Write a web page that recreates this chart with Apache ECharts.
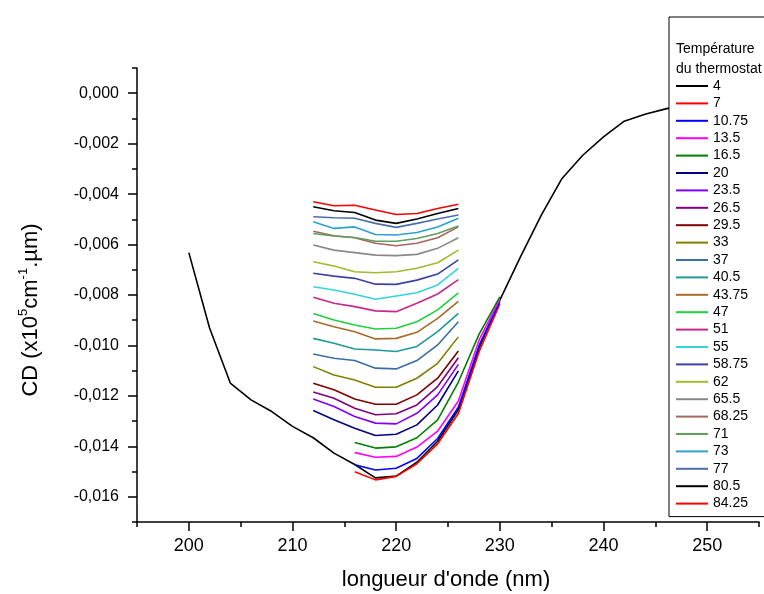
<!DOCTYPE html>
<html><head><meta charset="utf-8">
<script src="https://cdn.jsdelivr.net/npm/echarts@6/dist/echarts.min.js"></script>
<style>html,body{margin:0;padding:0;background:#fff}#c{width:764px;height:594px}</style>
</head><body><div id="c"></div>
<script>
const FONT = 'Liberation Sans, Arial, sans-serif';

// wavelengths (nm)
const wlFull = [200,202,204,206,208,210,212,214,216,218,220,222,224,226,228,230,232,234,236,238,240,242,244,246,248,250];
const wlLow  = [216,218,220,222,224,226,228,230];
const wlMid  = [212,214,216,218,220,222,224,226];

// legend labels (thermostat temperature)
const temps = ['4','7','10.75','13.5','16.5','20','23.5','26.5','29.5','33','37','40.5','43.75','47','51','55','58.75','62','65.5','68.25','71','73','77','80.5','84.25'];

// CD values
const cd4     = [-0.00632,-0.00931,-0.01149,-0.01216,-0.01262,-0.01321,-0.01366,-0.01427,-0.01472,-0.01525,-0.01518,-0.01463,-0.01380,-0.01255,-0.01010,-0.00820,-0.00648,-0.00483,-0.00338,-0.00246,-0.00173,-0.00111,-0.00083,-0.00062,-0.00045,-0.00035];
const cd7     = [-0.01501,-0.01533,-0.01519,-0.01469,-0.01390,-0.01270,-0.01025,-0.00835];
const cd10_75 = [-0.01473,-0.01494,-0.01487,-0.01448,-0.01369,-0.01245,-0.01000,-0.00825];
const cd13_5  = [-0.01425,-0.01443,-0.01440,-0.01403,-0.01340,-0.01220,-0.00978,-0.00816];
const cd16_5  = [-0.01385,-0.01407,-0.01402,-0.01366,-0.01295,-0.01145,-0.00955,-0.00807];
const cd20    = [-0.01258,-0.01295,-0.01328,-0.01357,-0.01352,-0.01315,-0.01236,-0.01101];
const cd23_5  = [-0.01212,-0.01242,-0.01282,-0.01308,-0.01311,-0.01269,-0.01196,-0.01075];
const cd26_5  = [-0.01185,-0.01209,-0.01249,-0.01275,-0.01271,-0.01236,-0.01163,-0.01049];
const cd29_5  = [-0.01150,-0.01176,-0.01212,-0.01233,-0.01233,-0.01196,-0.01130,-0.01022];
const cd33    = [-0.01084,-0.01117,-0.01137,-0.01166,-0.01166,-0.01130,-0.01071,-0.00966];
const cd37    = [-0.01034,-0.01051,-0.01060,-0.01090,-0.01093,-0.01060,-0.00998,-0.00906];
const cd40_5  = [-0.00972,-0.00991,-0.01014,-0.01018,-0.01024,-0.01004,-0.00945,-0.00873];
const cd43_75 = [-0.00903,-0.00926,-0.00946,-0.00974,-0.00972,-0.00948,-0.00893,-0.00825];
const cd47    = [-0.00873,-0.00899,-0.00919,-0.00935,-0.00932,-0.00906,-0.00859,-0.00792];
const cd51    = [-0.00809,-0.00833,-0.00846,-0.00863,-0.00866,-0.00833,-0.00796,-0.00739];
const cd55    = [-0.00767,-0.00780,-0.00797,-0.00817,-0.00804,-0.00791,-0.00760,-0.00694];
const cd58_75 = [-0.00714,-0.00725,-0.00734,-0.00757,-0.00758,-0.00741,-0.00717,-0.00661];
const cd62    = [-0.00668,-0.00685,-0.00708,-0.00712,-0.00708,-0.00694,-0.00672,-0.00622];
const cd65_5  = [-0.00602,-0.00622,-0.00632,-0.00642,-0.00644,-0.00639,-0.00615,-0.00573];
const cd68_25 = [-0.00547,-0.00565,-0.00573,-0.00595,-0.00605,-0.00595,-0.00573,-0.00530];
const cd71    = [-0.00556,-0.00566,-0.00572,-0.00587,-0.00587,-0.00576,-0.00556,-0.00526];
const cd73    = [-0.00510,-0.00536,-0.00530,-0.00560,-0.00562,-0.00552,-0.00530,-0.00496];
const cd77    = [-0.00490,-0.00494,-0.00496,-0.00516,-0.00532,-0.00516,-0.00499,-0.00483];
const cd80_5  = [-0.00450,-0.00466,-0.00473,-0.00503,-0.00516,-0.00499,-0.00477,-0.00457];
const cd84_25 = [-0.00430,-0.00446,-0.00444,-0.00463,-0.00481,-0.00477,-0.00457,-0.00440];

const seriesValues = [cd4,cd7,cd10_75,cd13_5,cd16_5,cd20,cd23_5,cd26_5,cd29_5,cd33,cd37,cd40_5,cd43_75,cd47,cd51,cd55,cd58_75,cd62,cd65_5,cd68_25,cd71,cd73,cd77,cd80_5,cd84_25];
const seriesWl = [wlFull,wlLow,wlLow,wlLow,wlLow].concat(new Array(20).fill(wlMid));

const colors = ['#000000','#ff0000','#0000ff','#ff00ff','#008000','#000080','#8000ff','#800080','#800000','#808000',
  '#3a6ea5','#1e9a9a','#a86a28','#20d040','#c8288a','#33d4e0','#3f3fa8','#a6b82e','#888888','#a56565',
  '#5e9e5e','#2e9fd3','#4870a8','#000000','#ff0000'];

const series = temps.map((t, i) => ({
  name: t,
  type: 'line',
  xAxisIndex: 0, yAxisIndex: 0,
  data: seriesWl[i].map((w, j) => [w, seriesValues[i][j]]),
  symbol: 'none', showSymbol: false,
  itemStyle: { color: colors[i] },
  lineStyle: { color: colors[i], width: 1.6 },
  animation: false
}));

const fmtY = v => (Math.abs(v) < 1e-9 ? '0,000' : v.toFixed(3).replace('.', ','));
const axLine = { show: true, onZero: false, lineStyle: { color: '#000', width: 1.5 } };
const noLine = { show: false, onZero: false };

const chart = echarts.init(document.getElementById('c'), null, { renderer: 'canvas' });
chart.setOption({
  backgroundColor: '#fff',
  animation: false,
  grid: [
    { left: 137, right: 5, top: 68, bottom: 72 },
    { left: 137, right: 5, top: 93.2, bottom: 97.2 },
    { left: 188.8, right: 56.8, top: 68, bottom: 72 }
  ],
  xAxis: [
    { gridIndex: 0, type: 'value', position: 'bottom', min: 195, max: 255, interval: 5, axisLine: axLine,
      axisTick: { show: true, inside: false, length: 5, lineStyle: { color: '#000', width: 1.5 } },
      axisLabel: { show: false }, splitLine: { show: false } },
    { gridIndex: 1, type: 'value', position: 'bottom', min: 195, max: 255, show: false, axisLine: noLine },
    { gridIndex: 2, type: 'value', position: 'bottom', min: 200, max: 250, interval: 10,
      axisLine: noLine,
      axisTick: { show: true, inside: false, length: 9, lineStyle: { color: '#000', width: 1.5 } },
      axisLabel: { show: true, margin: 15, fontSize: 18, color: '#000', fontFamily: FONT },
      splitLine: { show: false } }
  ],
  yAxis: [
    { gridIndex: 0, type: 'value', position: 'left', min: -0.017, max: 0.001, interval: 0.001, axisLine: axLine,
      axisTick: { show: true, inside: false, length: 5, lineStyle: { color: '#000', width: 1.5 } },
      axisLabel: { show: false }, splitLine: { show: false } },
    { gridIndex: 1, type: 'value', position: 'left', min: -0.016, max: 0, interval: 0.002,
      axisLine: noLine,
      axisTick: { show: true, inside: false, length: 9, lineStyle: { color: '#000', width: 1.5 } },
      axisLabel: { show: true, margin: 18, fontSize: 16, color: '#000', fontFamily: FONT, formatter: fmtY },
      splitLine: { show: false } },
    { gridIndex: 2, type: 'value', position: 'left', min: -0.017, max: 0.001, show: false, axisLine: noLine }
  ],
  legend: {
    data: temps,
    orient: 'vertical',
    left: 669, top: 17,
    padding: [62, 30, 6, 7],
    itemWidth: 32, itemHeight: 2, itemGap: 3.4,
    icon: 'rect',
    selectedMode: false,
    backgroundColor: '#fff',
    borderColor: '#000', borderWidth: 1,
    textStyle: { fontSize: 14, lineHeight: 14, color: '#000', fontFamily: FONT }
  },
  graphic: [
    { type: 'text', left: 676, top: 42, z: 100,
      style: { text: 'Température', fontSize: 14, fill: '#000', fontFamily: FONT } },
    { type: 'text', left: 676, top: 62, z: 100,
      style: { text: 'du thermostat', fontSize: 14, fill: '#000', fontFamily: FONT } },
    { type: 'text', x: 446, y: 580, z: 100,
      style: { text: "longueur d'onde (nm)", fontSize: 22, fill: '#000', fontFamily: FONT, align: 'center', verticalAlign: 'middle' } },
    { type: 'text', x: 31, y: 310, rotation: Math.PI / 2, z: 100,
      style: {
        text: '{a|CD (x10}{s|5}{a|cm}{s|-1}{a|.µm)}',
        align: 'center', verticalAlign: 'middle', fill: '#000',
        rich: {
          a: { fontSize: 22, lineHeight: 28, fontFamily: FONT, fill: '#000' },
          s: { fontSize: 13, lineHeight: 15, verticalAlign: 'top', fontFamily: FONT, fill: '#000' }
        }
      } }
  ],
  series: series
});
</script>
</body></html>
